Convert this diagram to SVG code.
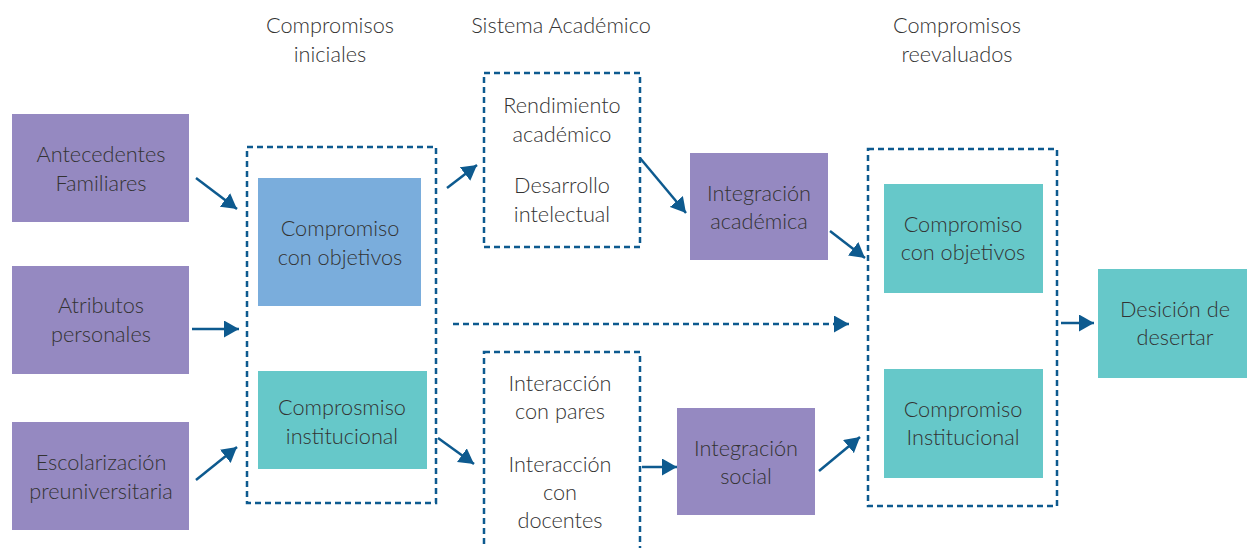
<svg xmlns="http://www.w3.org/2000/svg" width="1247" height="548" viewBox="0 0 1247 548">
<style>
text{font-family:Lato,"Open Sans","Liberation Sans",sans-serif;font-weight:300;font-size:21.7px;fill:#333;text-anchor:middle}
.p{fill:#9589c1}.b{fill:#7aaddc}.t{fill:#66c8c9}
.d{fill:none;stroke:#0d5a8f;stroke-width:2.5;stroke-dasharray:6 4}
.a{fill:none;stroke:#0d5a8f;stroke-width:2.5;marker-end:url(#ah)}
.ad{fill:none;stroke:#0d5a8f;stroke-width:2.5;stroke-dasharray:6 4;marker-end:url(#ah)}
</style>
<defs>
<marker id="ah" markerUnits="userSpaceOnUse" markerWidth="15" markerHeight="17" refX="15" refY="8.5" orient="auto"><path d="M0,0 L15,8.5 L0,17 z" fill="#0d5a8f"/></marker>
</defs>
<rect width="1247" height="548" fill="#fff"/>
<g id="headers">
<text x="330" y="33">Compromisos</text><text x="330" y="62">iniciales</text>
<text x="561" y="33">Sistema Académico</text>
<text x="957" y="33">Compromisos</text><text x="957" y="62">reevaluados</text>
</g>
<g id="antecedentes"><rect class="p" x="12" y="114" width="177" height="108"/><text x="101" y="162">Antecedentes</text><text x="101" y="191">Familiares</text></g>
<g id="atributos"><rect class="p" x="12" y="266" width="177" height="108"/><text x="101" y="313">Atributos</text><text x="101" y="342">personales</text></g>
<g id="escolarizacion"><rect class="p" x="12" y="422" width="177" height="108"/><text x="101" y="470">Escolarización</text><text x="101" y="499">preuniversitaria</text></g>
<g id="compromisos-iniciales"><rect class="d" x="247" y="147" width="189" height="356"/></g>
<g id="compromiso-objetivos-1"><rect class="b" x="258" y="178" width="163" height="128"/><text x="340" y="236">Compromiso</text><text x="340" y="265">con objetivos</text></g>
<g id="compromiso-institucional-1"><rect class="t" x="258" y="371" width="169" height="98"/><text x="342" y="415">Comprosmiso</text><text x="342" y="444">institucional</text></g>
<g id="sistema-academico"><rect class="d" x="484" y="73" width="156" height="174"/><text x="562" y="113">Rendimiento</text><text x="562" y="142">académico</text><text x="562" y="193">Desarrollo</text><text x="562" y="222">intelectual</text></g>
<g id="sistema-social"><rect class="d" x="484" y="352" width="156" height="210"/><text x="560" y="391">Interacción</text><text x="560" y="419">con pares</text><text x="560" y="472">Interacción</text><text x="560" y="500">con</text><text x="560" y="528">docentes</text></g>
<g id="integracion-academica"><rect class="p" x="690" y="153" width="138" height="107"/><text x="759" y="201">Integración</text><text x="759" y="229">académica</text></g>
<g id="integracion-social"><rect class="p" x="677" y="408" width="138" height="107"/><text x="746" y="456">Integración</text><text x="746" y="484">social</text></g>
<g id="compromisos-reevaluados"><rect class="d" x="868" y="149" width="189" height="357"/></g>
<g id="compromiso-objetivos-2"><rect class="t" x="884" y="184" width="159" height="109"/><text x="963" y="232">Compromiso</text><text x="963" y="260">con objetivos</text></g>
<g id="compromiso-institucional-2"><rect class="t" x="884" y="369" width="159" height="109"/><text x="963" y="417">Compromiso</text><text x="963" y="445">Institucional</text></g>
<g id="desicion"><rect class="t" x="1098" y="269" width="149" height="109"/><text x="1175" y="317">Desición de</text><text x="1175" y="345">desertar</text></g>
<g id="connectors">
<line class="a" x1="196" y1="178" x2="237" y2="209"/>
<line class="a" x1="192" y1="329" x2="239" y2="329"/>
<line class="a" x1="196" y1="480" x2="237" y2="447"/>
<line class="a" x1="447" y1="188" x2="477" y2="165"/>
<line class="a" x1="640" y1="158" x2="686" y2="213"/>
<line class="a" x1="830" y1="231" x2="865" y2="258"/>
<line class="ad" x1="453" y1="324" x2="849" y2="324"/>
<line class="a" x1="438" y1="438" x2="474" y2="464"/>
<line class="a" x1="642" y1="467" x2="677" y2="467"/>
<line class="a" x1="819" y1="471" x2="860" y2="437"/>
<line class="a" x1="1061" y1="323" x2="1094" y2="323"/>
</g>
</svg>
